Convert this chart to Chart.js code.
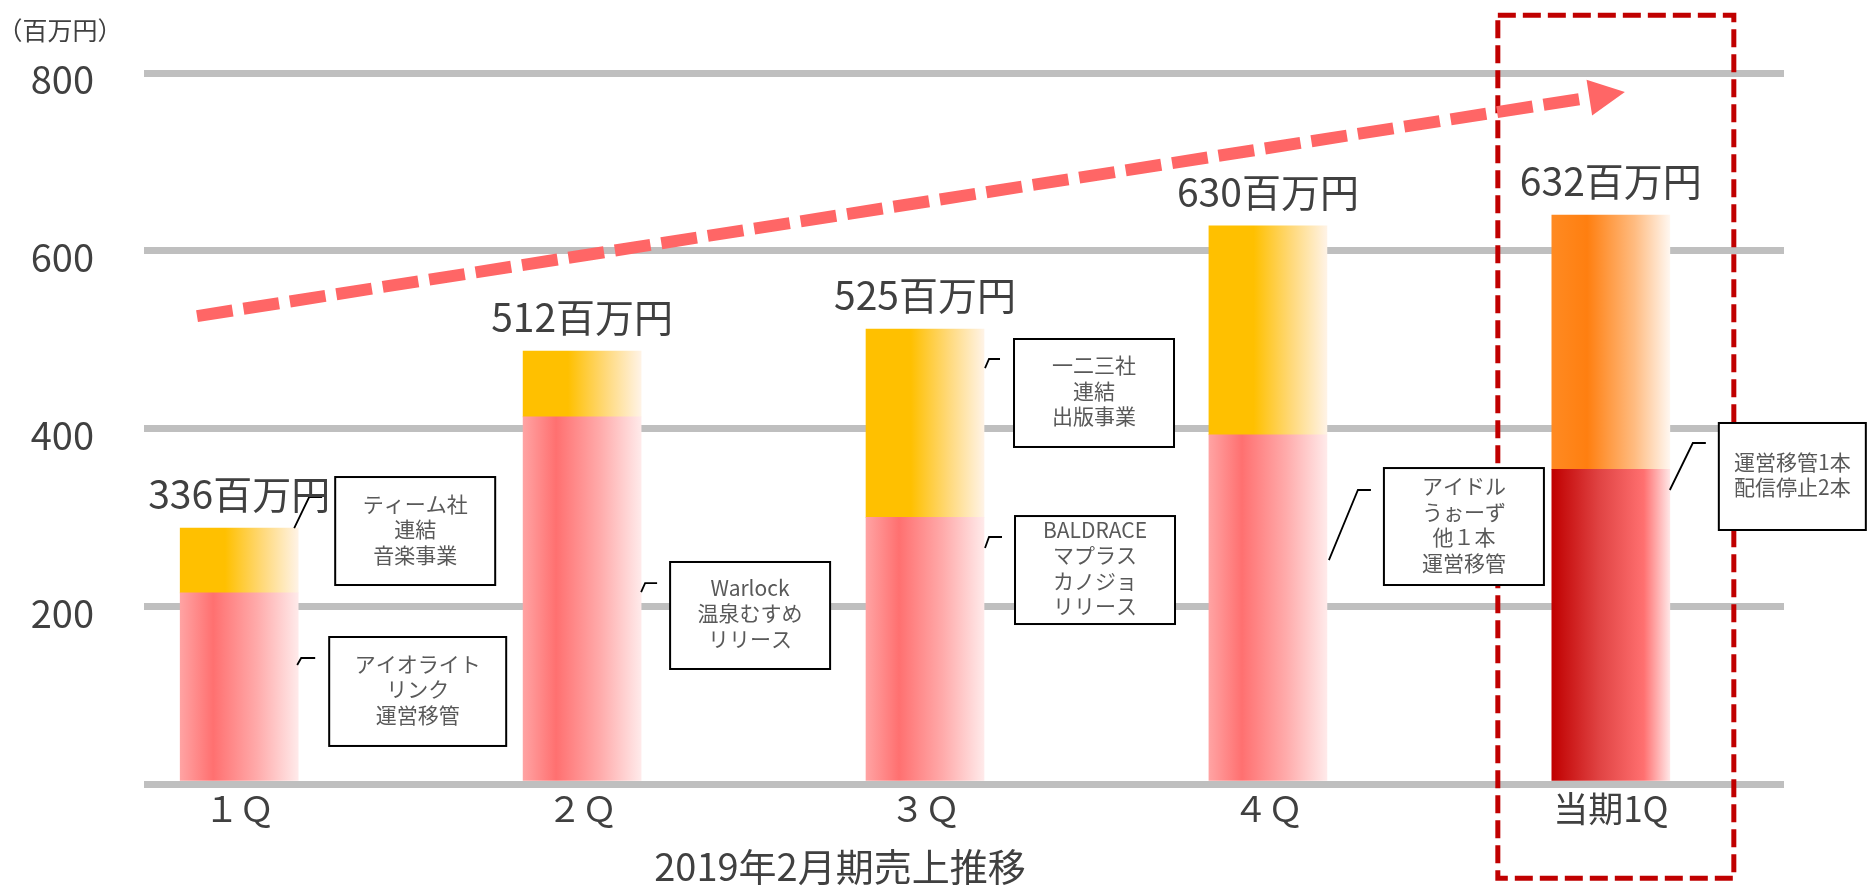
<!DOCTYPE html>
<html lang="ja">
<head>
<meta charset="utf-8">
<title>2019年2月期売上推移</title>
<script src="https://cdn.jsdelivr.net/npm/chart.js@4.4.1/dist/chart.umd.min.js"></script>
<style>
  html, body { margin: 0; padding: 0; background: #fff; }
  #wrap { width: 1875px; height: 888px; }
</style>
</head>
<body>
<div id="wrap"><canvas id="salesChart" width="1875" height="888"></canvas></div>
<script>
// データ（百万円）
const quarters = ['１Ｑ', '２Ｑ', '３Ｑ', '４Ｑ', '当期1Q'];
const baseSales = [215, 413, 300, 393, 354];
const addedSales = [73, 74, 212, 235, 286];
const totalLabels = [336, 512, 525, 630, 632];
const yTicks = [0, 200, 400, 600, 800];
const unitLabel = '（百万円）';
const caption = '2019年2月期売上推移';

const noteTexts = [
  ['ティーム社', '連結', '音楽事業'],
  ['アイオライト', 'リンク', '運営移管'],
  ['Warlock', '温泉むすめ', 'リリース'],
  ['一二三社', '連結', '出版事業'],
  ['BALDRACE', 'マプラス', 'カノジョ', 'リリース'],
  ['アイドル', 'うぉーず', '他１本', '運営移管'],
  ['運営移管1本', '配信停止2本']
];

// 注記の配置：対象の棒の中心からの横ずれ(px)と縦の値
const noteLayout = [
  { bar: 0, box: [96, 345.4, 256, 223.9], lead: [[55, 288.0], [70, 322.9], [83, 322.9]] },
  { bar: 0, box: [90, 165.4, 267, 42.8], lead: [[58, 133.9], [62, 141.8], [76, 141.8]] },
  { bar: 1, box: [88, 249.8, 248, 129.4], lead: [[59, 216.0], [63, 226.1], [75, 226.1]] },
  { bar: 2, box: [89, 500.7, 249, 379.2], lead: [[60, 468.0], [64, 478.2], [75, 478.2]] },
  { bar: 2, box: [90, 301.5, 250, 180.0], lead: [[60, 265.5], [64, 277.9], [77, 277.9]] },
  { bar: 3, box: [116, 355.5, 276, 223.9], lead: [[61, 252.0], [90, 330.8], [103, 330.8]] },
  { bar: 4, box: [108, 406.2, 255, 285.8], lead: [[59, 330.8], [82, 383.7], [95, 383.7]] }
];
const frame = { bar: 4, dx0: -113, dx1: 123, v0: 865, v1: -106 };
const trend = { from: [-0.123, 526.5], to: [4.041, 778.6] };

const FONT = '"Noto Sans CJK JP", "Noto Sans", sans-serif';
const BAR_W = 118;
const CURRENT = quarters.length - 1;

const pinkStops = [[0, '#ffa3a3'], [0.28, '#ff7070'], [0.65, '#ffaaaa'], [1, '#ffeaea']];
const yellowStops = [[0, '#ffc000'], [0.38, '#ffc000'], [0.7, '#ffd97a'], [1, '#fff3e6']];
const redStops = [[0, '#c00000'], [0.4, '#e04343'], [0.78, '#ff7070'], [1, '#ffe6e6']];
const orangeStops = [[0, '#ff8a22'], [0.3, '#ff7f10'], [0.7, '#ffbb80'], [1, '#fff7f0']];

function barFill(normal, current) {
  return function (ctx) {
    const chart = ctx.chart;
    const xs = chart.scales.x;
    if (!chart.chartArea || !xs || ctx.dataIndex === undefined) return '#ff7070';
    const cx = xs.getPixelForValue(ctx.dataIndex);
    const g = chart.ctx.createLinearGradient(cx - BAR_W / 2, 0, cx + BAR_W / 2, 0);
    (ctx.dataIndex === CURRENT ? current : normal).forEach(s => g.addColorStop(s[0], s[1]));
    return g;
  };
}

const overlay = {
  id: 'overlay',
  afterDatasetsDraw(chart) {
    const ctx = chart.ctx;
    const xs = chart.scales.x, ys = chart.scales.y;

    // 当期の枠
    const fc = xs.getPixelForValue(frame.bar);
    const fy0 = ys.getPixelForValue(frame.v0), fy1 = ys.getPixelForValue(frame.v1);
    ctx.save();
    ctx.strokeStyle = '#c00000';
    ctx.lineWidth = 5;
    ctx.setLineDash([18, 7]);
    ctx.strokeRect(fc + frame.dx0, fy0, frame.dx1 - frame.dx0, fy1 - fy0);
    ctx.restore();

    // 成長の矢印
    const ax = xs.getPixelForValue(trend.from[0]), ay = ys.getPixelForValue(trend.from[1]);
    const tx = xs.getPixelForValue(trend.to[0]), ty = ys.getPixelForValue(trend.to[1]);
    const len = Math.hypot(tx - ax, ty - ay);
    const dx = (tx - ax) / len, dy = (ty - ay) / len;
    const head = 36, halfW = 18;
    const bx = tx - dx * head, by = ty - dy * head;
    ctx.save();
    ctx.strokeStyle = '#ff6666';
    ctx.fillStyle = '#ff6666';
    ctx.lineWidth = 12;
    ctx.setLineDash([36, 11]);
    ctx.beginPath();
    ctx.moveTo(ax, ay);
    ctx.lineTo(bx - dx * 6, by - dy * 6);
    ctx.stroke();
    ctx.setLineDash([]);
    ctx.beginPath();
    ctx.moveTo(tx, ty);
    ctx.lineTo(bx - dy * halfW, by + dx * halfW);
    ctx.lineTo(bx + dy * halfW, by - dx * halfW);
    ctx.closePath();
    ctx.fill();
    ctx.restore();

    // 注記
    ctx.save();
    noteLayout.forEach((n, i) => {
      const c = xs.getPixelForValue(n.bar);
      const x0 = c + n.box[0], x1 = c + n.box[2];
      const y0 = ys.getPixelForValue(n.box[1]), y1 = ys.getPixelForValue(n.box[3]);
      ctx.strokeStyle = '#000';
      ctx.lineWidth = 1.8;
      ctx.beginPath();
      n.lead.forEach((p, k) => {
        const lx = c + p[0], ly = ys.getPixelForValue(p[1]);
        if (k === 0) ctx.moveTo(lx, ly); else ctx.lineTo(lx, ly);
      });
      ctx.stroke();
      ctx.fillStyle = '#fff';
      ctx.fillRect(x0, y0, x1 - x0, y1 - y0);
      ctx.lineWidth = 2;
      ctx.strokeRect(x0, y0, x1 - x0, y1 - y0);
      const lines = noteTexts[i];
      const lh = 25.5;
      const cy = (y0 + y1) / 2 - 2;
      ctx.fillStyle = '#595959';
      ctx.font = '21px ' + FONT;
      ctx.textAlign = 'center';
      ctx.textBaseline = 'middle';
      lines.forEach((t, k) => {
        ctx.fillText(t, (x0 + x1) / 2, cy + (k - (lines.length - 1) / 2) * lh);
      });
    });
    ctx.restore();

    // 合計ラベル
    const meta = chart.getDatasetMeta(1);
    ctx.save();
    ctx.fillStyle = '#404040';
    ctx.font = '39px ' + FONT;
    ctx.textAlign = 'center';
    ctx.textBaseline = 'middle';
    meta.data.forEach((el, i) => {
      ctx.fillText(totalLabels[i] + '百万円', el.x, el.y - 34);
    });
    ctx.restore();
  },
  afterDraw(chart) {
    const ctx = chart.ctx;
    ctx.save();
    ctx.fillStyle = '#404040';
    ctx.textAlign = 'center';
    ctx.textBaseline = 'middle';
    ctx.font = '25px ' + FONT;
    ctx.fillText(unitLabel, 60, 30);
    ctx.font = '38px ' + FONT;
    ctx.fillText(caption, chart.scales.x.getPixelForValue(1.752), 867);
    ctx.restore();
  }
};

Chart.defaults.font.family = FONT;

new Chart(document.getElementById('salesChart').getContext('2d'), {
  type: 'bar',
  data: {
    datasets: [
      {
        label: 'base',
        data: baseSales.map((v, i) => ({ x: i, y: v })),
        backgroundColor: barFill(pinkStops, redStops),
        borderWidth: 0,
        barThickness: BAR_W
      },
      {
        label: 'added',
        data: addedSales.map((v, i) => ({ x: i, y: v })),
        backgroundColor: barFill(yellowStops, orangeStops),
        borderWidth: 0,
        barThickness: BAR_W
      }
    ]
  },
  options: {
    responsive: false,
    animation: false,
    layout: { padding: { top: 73, right: 91, bottom: 0, left: 0 } },
    plugins: {
      legend: { display: false },
      tooltip: { enabled: false }
    },
    scales: {
      x: {
        type: 'linear',
        stacked: true,
        offset: false,
        min: -0.2776,
        max: 4.505,
        grid: { display: false, offset: false },
        border: { display: false },
        afterFit: s => { s.height = 104; },
        ticks: {
          stepSize: 1,
          includeBounds: false,
          autoSkip: false,
          maxRotation: 0,
          padding: -4,
          color: '#404040',
          font: { size: 35 },
          callback: v => (Number.isInteger(v) && quarters[v] !== undefined) ? quarters[v] : ''
        }
      },
      y: {
        stacked: true,
        min: yTicks[0],
        max: yTicks[yTicks.length - 1],
        afterFit: s => { s.width = 144; },
        grid: { color: '#bfbfbf', lineWidth: 7, drawTicks: false },
        border: { display: false },
        ticks: {
          stepSize: 200,
          padding: 50,
          labelOffset: 7,
          color: '#404040',
          font: { size: 38 },
          callback: v => (v === 0 ? '' : v)
        }
      }
    }
  },
  plugins: [overlay]
});
</script>
</body>
</html>
